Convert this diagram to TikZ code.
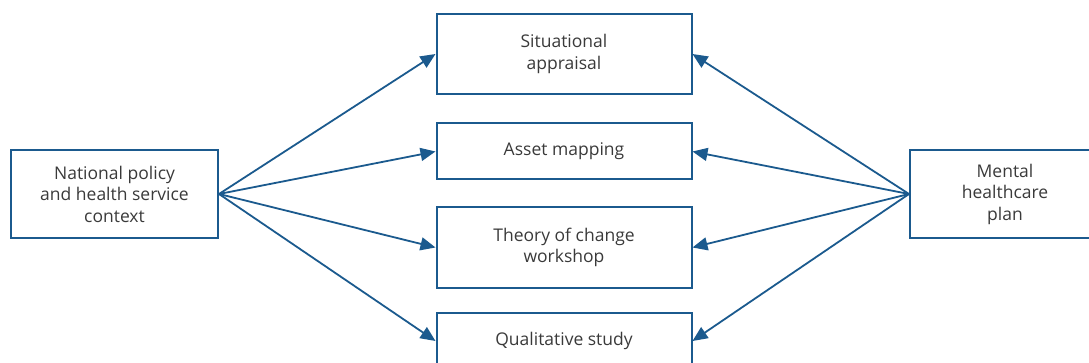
\documentclass[tikz,border=0pt]{standalone}
\usepackage{fontspec}
\setmainfont{Open Sans}
\usepackage{tikz}
\usetikzlibrary{arrows.meta, positioning}
\definecolor{frameblue}{HTML}{1B5A8E}
\definecolor{textgray}{HTML}{3A3A3A}
\tikzset{
  block/.style={
    rectangle, draw=frameblue, line width=2pt,
    inner sep=0pt, align=center, text=textgray,
    font=\fontsize{17.5}{21.5}\selectfont,
  },
  arrow/.style={-{Triangle[length=15pt, width=13pt]}, line width=1.8pt, color=frameblue},
}
\begin{document}
\begin{tikzpicture}[x=1pt, y=-1pt]

  \useasboundingbox (0,0) rectangle (1089,363);

  \node[block, minimum width=207pt, minimum height=88pt] (policy) at (114.5,194) {National policy\\and health service\\context};
  \node[block, minimum width=190pt, minimum height=88pt] (plan) at (1005,194) {Mental\\healthcare\\plan};

  \node[block, minimum width=255pt, minimum height=80pt] (appraisal) at (564,54) {Situational\\appraisal};
  \node[block, minimum width=255pt, minimum height=56pt] (assets) at (564,151.5) {Asset mapping};
  \node[block, minimum width=255pt, minimum height=80pt] (toc) at (564,247.5) {Theory of change\\workshop};
  \node[block, minimum width=255pt, minimum height=56pt] (qual) at (564,341) {Qualitative study};

  \draw[arrow] (policy.east) -- (appraisal.west);
  \draw[arrow] (policy.east) -- (assets.west);
  \draw[arrow] (policy.east) -- (toc.west);
  \draw[arrow] (policy.east) -- (qual.west);

  \draw[arrow] (plan.west) -- (appraisal.east);
  \draw[arrow] (plan.west) -- (assets.east);
  \draw[arrow] (plan.west) -- (toc.east);
  \draw[arrow] (plan.west) -- (qual.east);

\end{tikzpicture}
\end{document}
